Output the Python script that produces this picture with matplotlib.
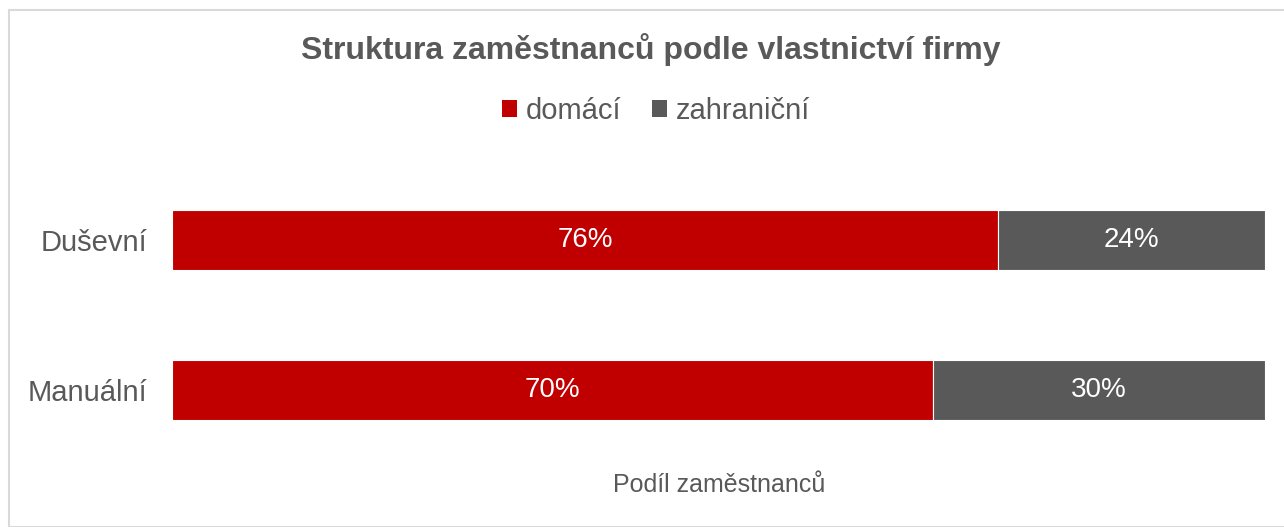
import matplotlib
matplotlib.use("Agg")
import matplotlib.pyplot as plt
from matplotlib.patches import Patch, Rectangle

plt.rcParams['font.family'] = ['Liberation Sans', 'DejaVu Sans']

categories = ["Manuální", "Duševní"]
domaci = [69.6, 75.6]
zahranicni = [30.4, 24.4]
series_names = ["domácí", "zahraniční"]
colors = ["#C00000", "#595959"]
text_color = "#595959"

fig = plt.figure(figsize=(12.84, 5.27), dpi=100)
fig.patches.append(Rectangle((9/1284, 0), 1.0, 1 - 10/527, transform=fig.transFigure,
                             fill=False, edgecolor="#D9D9D9", linewidth=1.5, zorder=0))
ax = fig.add_axes([172/1284, 62/527, (1265-172)/1284, 300/527])

y = range(len(categories))
b1 = ax.barh(y, domaci, height=0.4, color=colors[0], edgecolor="white", linewidth=0.8)
b2 = ax.barh(y, zahranicni, left=domaci, height=0.4, color=colors[1], edgecolor="white", linewidth=0.8)
for bars, vals in ((b1, domaci), (b2, zahranicni)):
    for bar, v in zip(bars, vals):
        ax.text(bar.get_x() + bar.get_width() / 2, bar.get_y() + bar.get_height() / 2,
                f"{v:.0f}%", ha="center", va="center", color="white", fontsize=20)

ax.set_xlim(0, 100)
ax.set_ylim(-0.5, 1.5)
ax.set_yticks(list(y))
ax.set_yticklabels(categories, fontsize=21, color=text_color)
ax.tick_params(axis="y", length=0, pad=18)
ax.set_xticks([])
for s in ax.spines.values():
    s.set_visible(False)

fig.text(719/1284, 1 - 485/527, "Podíl zaměstnanců", ha="center", va="center",
         fontsize=18, color=text_color)
fig.text(651/1284, 1 - 50/527, "Struktura zaměstnanců podle vlastnictví firmy",
         ha="center", va="center", fontsize=23, fontweight="bold", color=text_color)
handles = [Patch(facecolor=c, edgecolor="none") for c in colors]
fig.legend(handles, series_names, loc="center", bbox_to_anchor=(656/1284, 1 - 111/527),
           ncol=2, frameon=False, fontsize=21, labelcolor=text_color,
           handlelength=0.51, handleheight=0.51, handletextpad=0.3, columnspacing=1.05)

fig.savefig("out.png", dpi=100)
